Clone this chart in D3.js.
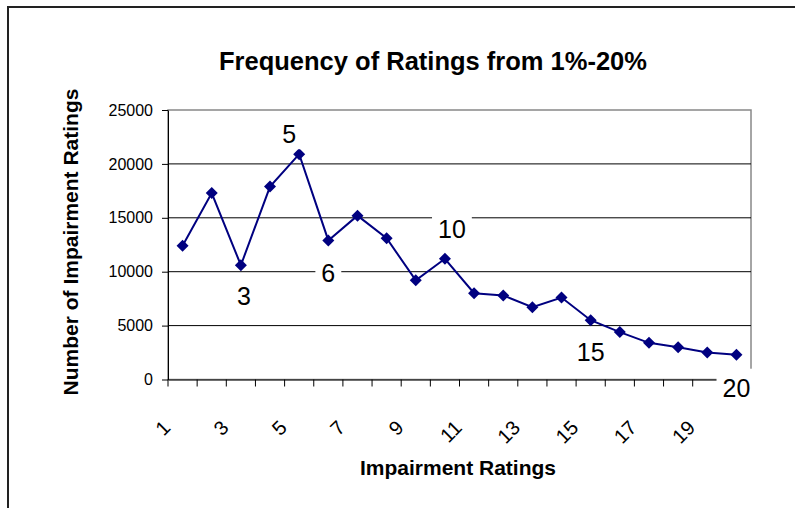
<!DOCTYPE html>
<html>
<head>
<meta charset="utf-8">
<script src="https://cdn.jsdelivr.net/npm/d3@7"></script>
<style>
  body { margin: 0; background: #fff; }
  text { font-family: "Liberation Sans", Arial, sans-serif; }
</style>
</head>
<body>
<div id="chart"></div>
<script>
// ratings 1%..20% and how many of each were given
var ratings = [1, 2, 3, 4, 5, 6, 7, 8, 9, 10, 11, 12, 13, 14, 15, 16, 17, 18, 19, 20];
var counts = [12400, 17300, 10600, 17900, 20900, 12900, 15200, 13100, 9200, 11200,
              8000, 7800, 6700, 7600, 5500, 4400, 3400, 3000, 2500, 2300];
var yTicks = [0, 5000, 10000, 15000, 20000, 25000];
var xTickLabels = [1, 3, 5, 7, 9, 11, 13, 15, 17, 19];
var labelledPoints = [3, 5, 6, 10, 15, 20];

var width = 795, height = 508;
var plot = {left: 168, right: 751, top: 110, bottom: 379.5};

// where each data label sits relative to its point (px)
var labelOffset = {3: [3, 31], 5: [-10, -20], 6: [0, 33], 10: [7, -30], 15: [0, 32], 20: [0, 33]};

var svg = d3.select("#chart").append("svg")
    .attr("width", width)
    .attr("height", height);

// outer frame (only top and left edges show)
svg.append("path")
    .attr("d", "M8,508V7H795")
    .attr("fill", "none")
    .attr("stroke", "#222")
    .attr("stroke-width", 2);

var x = d3.scaleBand()
    .domain(ratings)
    .range([plot.left, plot.right]);

var y = d3.scaleLinear()
    .domain([0, 25000])
    .range([plot.bottom, plot.top]);

// plot area border
svg.append("rect")
    .attr("x", plot.left)
    .attr("y", plot.top)
    .attr("width", plot.right - plot.left)
    .attr("height", plot.bottom - plot.top)
    .attr("fill", "none")
    .attr("stroke", "#888")
    .attr("stroke-width", 1.5);

// gridlines
svg.append("g")
    .selectAll("line")
    .data(yTicks.filter(function (d) { return d > 0 && d < 25000; }))
    .enter().append("line")
    .attr("x1", plot.left)
    .attr("x2", plot.right)
    .attr("y1", function (d) { return y(d); })
    .attr("y2", function (d) { return y(d); })
    .attr("stroke", "#000")
    .attr("stroke-width", 1);

// y axis
var yAxis = svg.append("g")
    .attr("transform", "translate(" + plot.left + ",0)")
    .call(d3.axisLeft(y).tickValues(yTicks).tickFormat(d3.format("d"))
        .tickSize(6).tickSizeOuter(0).tickPadding(9));
yAxis.select(".domain").attr("stroke", "#000");
yAxis.selectAll("text")
    .attr("font-size", 16)
    .attr("font-family", "Liberation Sans, Arial, sans-serif")
    .attr("fill", "#000");

// x axis, ticks between categories
var xAxis = svg.append("g")
    .attr("transform", "translate(0," + plot.bottom + ")")
    .call(d3.axisBottom(x).tickSize(7).tickSizeOuter(0).tickFormat(""));
xAxis.selectAll(".tick")
    .attr("transform", function (d) { return "translate(" + x(d) + ",0)"; });
xAxis.select(".domain").attr("stroke", "#000");

// rotated category labels
svg.append("g")
    .selectAll("text")
    .data(xTickLabels)
    .enter().append("text")
    .attr("transform", function (d) {
        return "translate(" + (x(d) + x.bandwidth() / 2 - 11) + ",429) rotate(-45)";
    })
    .attr("text-anchor", "end")
    .attr("font-size", 20)
    .text(function (d) { return d; });

// line + markers
var cx = function (d, i) { return x(ratings[i]) + x.bandwidth() / 2; };

var line = d3.line()
    .x(cx)
    .y(function (d) { return y(d); });

svg.append("path")
    .datum(counts)
    .attr("d", line)
    .attr("fill", "none")
    .attr("stroke", "#000080")
    .attr("stroke-width", 2);

svg.append("g")
    .selectAll("path")
    .data(counts)
    .enter().append("path")
    .attr("d", d3.symbol(d3.symbolSquare, 72))
    .attr("transform", function (d, i) {
        return "translate(" + cx(d, i) + "," + y(d) + ") rotate(45)";
    })
    .attr("fill", "#000080");

// data labels with white boxes
var labels = svg.append("g")
    .selectAll("g")
    .data(labelledPoints)
    .enter().append("g")
    .attr("transform", function (r) {
        var i = ratings.indexOf(r);
        var off = labelOffset[r];
        return "translate(" + (cx(null, i) + off[0]) + "," + (y(counts[i]) + off[1]) + ")";
    });

labels.append("rect").attr("fill", "#fff");
labels.append("text")
    .attr("text-anchor", "middle")
    .attr("dy", "0.36em")
    .attr("font-size", 25)
    .text(function (r) { return r; });

labels.each(function () {
    var g = d3.select(this);
    var b = g.select("text").node().getBBox();
    g.select("rect")
        .attr("x", b.x - 6)
        .attr("y", b.y - 5)
        .attr("width", b.width + 12)
        .attr("height", b.height + 6);
});

// titles
svg.append("text")
    .attr("x", 433)
    .attr("y", 70)
    .attr("text-anchor", "middle")
    .attr("font-size", 25.5)
    .attr("font-weight", "bold")
    .text("Frequency of Ratings from 1%-20%");

svg.append("text")
    .attr("x", 458)
    .attr("y", 475)
    .attr("text-anchor", "middle")
    .attr("font-size", 21)
    .attr("font-weight", "bold")
    .text("Impairment Ratings");

svg.append("text")
    .attr("transform", "translate(78,242) rotate(-90)")
    .attr("text-anchor", "middle")
    .attr("font-size", 21)
    .attr("font-weight", "bold")
    .text("Number of Impairment Ratings");
</script>
</body>
</html>
